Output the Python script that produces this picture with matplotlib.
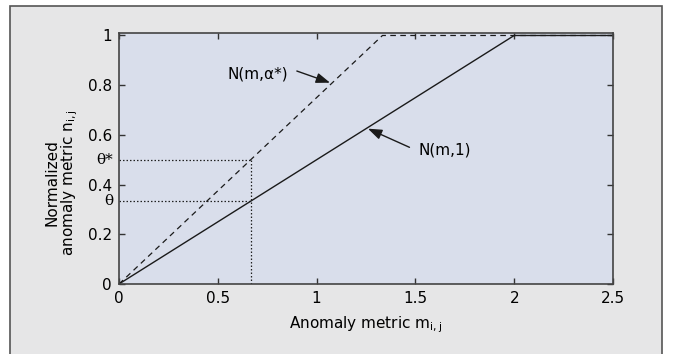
import matplotlib
matplotlib.use('Agg')
import matplotlib.pyplot as plt
from matplotlib.patches import Rectangle

# curves N(m,1) and N(m,alpha*)
solid_x = [0, 2.0, 2.5]
solid_y = [0, 1.0, 1.0]
dash_x = [0, 4 / 3, 2.5]
dash_y = [0, 1.0, 1.0]

# threshold guides
m_thr = 2 / 3
theta = 1 / 3
theta_star = 0.5

xticks = [0, 0.5, 1, 1.5, 2, 2.5]
xtick_labels = ['0', '0.5', '1', '1.5', '2', '2.5']
yticks = [0, 0.2, 0.4, 0.6, 0.8, 1]
ytick_labels = ['0', '0.2', '0.4', '0.6', '0.8', '1']

plt.rcParams['font.family'] = 'DejaVu Sans'

fig = plt.figure(figsize=(6.75, 3.54), dpi=100)
fig.patch.set_facecolor('white')

# grey box behind the chart
W, H = 675, 354
frame = Rectangle((10 / W, -0.05), 652 / W, 1.05 - 6 / H, transform=fig.transFigure,
                  facecolor='#e6e6e7', edgecolor='#555555', lw=1.2, zorder=-5)
fig.add_artist(frame)

ax = fig.add_axes([119 / W, 1 - 284 / H, 494 / W, 251 / H])
ax.set_facecolor('#d9deeb')

ax.plot(solid_x, solid_y, color='#1a1a1a', lw=1.0, solid_capstyle='butt')
ax.plot(dash_x, dash_y, color='#1a1a1a', lw=0.9, linestyle=(0, (4.5, 3.5)))

dot = dict(color='#222222', lw=0.9, linestyle=(0, (1.2, 1.6)))
ax.plot([0, m_thr], [theta_star, theta_star], **dot)
ax.plot([0, m_thr], [theta, theta], **dot)
ax.plot([m_thr, m_thr], [0, theta_star], **dot)

ax.set_xlim(0, 2.5)
ax.set_ylim(0, 1.01)
ax.set_xticks(xticks)
ax.set_xticklabels(xtick_labels)
ax.set_yticks(yticks)
ax.set_yticklabels(ytick_labels)
ax.tick_params(direction='in', length=4, width=1, top=True, right=True,
               labelsize=11, color='#333333', pad=5)
for s in ax.spines.values():
    s.set_color('#444444')
    s.set_linewidth(1.2)

# theta labels on the y axis
ax.text(-0.012, theta_star, 'θ*', transform=ax.get_yaxis_transform(),
        ha='right', va='center', fontsize=11, family='DejaVu Serif')
ax.text(-0.012, theta, 'θ', transform=ax.get_yaxis_transform(),
        ha='right', va='center', fontsize=11, family='DejaVu Serif')

arrow = dict(arrowstyle='-|>,head_length=0.6,head_width=0.22', color='#1a1a1a',
             lw=1.0, mutation_scale=14, shrinkA=0, shrinkB=0)
ax.annotate('', xy=(1.068, 0.81), xytext=(0.90, 0.857), arrowprops=arrow)
ax.text(0.70, 0.845, 'N(m,α*)', ha='center', va='center', fontsize=11)
ax.annotate('', xy=(1.26, 0.625), xytext=(1.47, 0.55), arrowprops=arrow)
ax.text(1.65, 0.54, 'N(m,1)', ha='center', va='center', fontsize=11)

ax.set_xlabel('Anomaly metric m$_{\\mathregular{i,j}}$', fontsize=11, labelpad=6)
ax.text(-0.115, 0.405, 'Normalized\nanomaly metric n$_{\\mathregular{i,j}}$',
        transform=ax.transAxes, rotation=90, ha='center', va='center',
        fontsize=11, multialignment='center', linespacing=1.0)

fig.savefig('out.png', dpi=100)
